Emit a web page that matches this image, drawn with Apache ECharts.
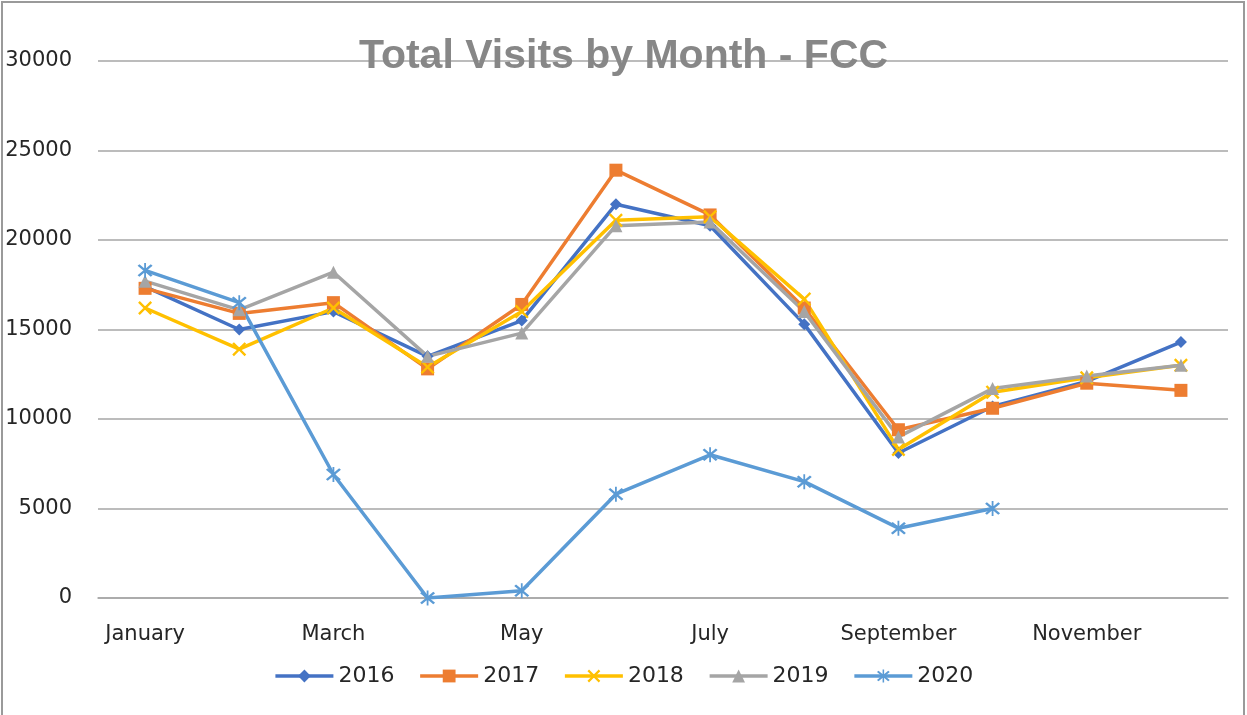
<!DOCTYPE html>
<html><head><meta charset="utf-8">
<script src="https://cdn.jsdelivr.net/npm/echarts@6/dist/echarts.min.js"></script>
<style>html,body{margin:0;padding:0;background:#fff}#c{width:1247px;height:715px}</style>
</head><body><div id="c"></div>
<script>
const months = ['January','February','March','April','May','June','July','August','September','October','November','December'];
const years = ['2016','2017','2018','2019','2020'];
const v2016 = [17400,15000,16000,13500,15500,22000,20800,15300,8100,10700,12100,14300];
const v2017 = [17300,15900,16500,12800,16400,23900,21400,16200,9400,10600,12000,11600];
const v2018 = [16200,13900,16200,12900,16000,21100,21300,16700,8300,11500,12300,13000];
const v2019 = [17700,16100,18200,13500,14800,20800,21000,16000,9000,11700,12400,13000];
const v2020 = [18300,16500,6900,0,400,5800,8000,6500,3900,5000,null,null];
const yTicks = [0,5000,10000,15000,20000,25000,30000];

const colors = ['#4472C4','#ED7D31','#FFC000','#A5A5A5','#5B9BD5'];
const xPath = 'path://M0,1.2L1.2,0L10,8.8L8.8,10Z M8.8,0L10,1.2L1.2,10L0,8.8Z';
const starPath = 'path://M0,1.2L1.2,0L10,8.8L8.8,10Z M8.8,0L10,1.2L1.2,10L0,8.8Z M4.4,-1L5.6,-1L5.6,11L4.4,11Z';
const symbols = ['diamond','rect',xPath,'triangle',starPath];
const sizes = [12,13,14,13,15];
const dataSets = [v2016,v2017,v2018,v2019,v2020];

const chart = echarts.init(document.getElementById('c'));
chart.setOption({
  animation:false,
  title:{text:'Total Visits by Month - FCC',left:'center',top:31,
    textStyle:{fontFamily:'Liberation Sans',fontWeight:'bold',fontSize:41,color:'#878787'}},
  grid:{left:98,right:19,top:61,bottom:117,containLabel:false},
  legend:{bottom:23,left:'center',itemWidth:58,itemHeight:16,itemGap:24,
    lineStyle:{width:3.5},
    textStyle:{fontFamily:'DejaVu Sans',fontSize:22,color:'#262626'},data:years},
  xAxis:{type:'category',data:months,boundaryGap:true,
    axisTick:{show:false},axisLine:{show:true,lineStyle:{color:'#a6a6a6',width:1.5}},
    axisLabel:{interval:1,margin:26,fontFamily:'DejaVu Sans',fontSize:21,color:'#262626'}},
  yAxis:{type:'value',min:yTicks[0],max:yTicks[yTicks.length-1],interval:5000,
    axisLine:{show:false},axisTick:{show:false},
    splitLine:{lineStyle:{color:'#a6a6a6',width:1.5}},
    axisLabel:{margin:26,fontFamily:'DejaVu Sans',fontSize:21,color:'#262626',formatter:v=>String(v)}},
  graphic:[{type:'rect',shape:{x:2,y:2,width:1242,height:720},style:{fill:'none',stroke:'#9a9a9a',lineWidth:2},silent:true,z:-1}],
  series: years.map((y,i)=>({
    name:y,type:'line',data:dataSets[i],color:colors[i],
    symbol:symbols[i],symbolSize:sizes[i],showAllSymbol:true,
    lineStyle:{width:3.5,color:colors[i]},
    itemStyle:{color:colors[i]},
    connectNulls:false
  }))
});
</script></body></html>
